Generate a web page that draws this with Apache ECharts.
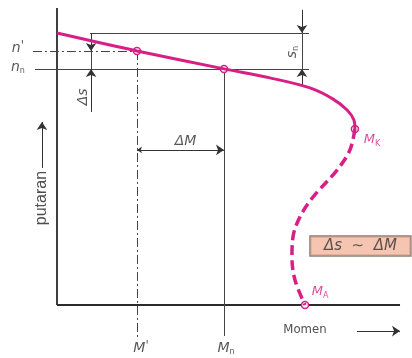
<!DOCTYPE html>
<html>
<head>
<meta charset="utf-8">
<script src="https://cdn.jsdelivr.net/npm/echarts@6/dist/echarts.min.js"></script>
<style>
  html, body { margin: 0; padding: 0; background: #fff; }
  #chart { width: 412px; height: 358px; }
</style>
</head>
<body>
<div id="chart"></div>
<script>
// Momen in % of M_n, putaran in % of n0
const curveSolid = [[0, 100], [47.9, 93.4], [100, 86.8], [127.5, 83.5], [151.5, 79.8],
  [165.3, 75.7], [173.7, 71.7], [177.8, 68.0], [178.4, 64.7]];
const curveDashed = [[178.4, 64.7], [175.4, 57.0], [167.7, 49.6], [153.3, 39.7],
  [145.5, 32.4], [141.3, 25.0], [140.7, 17.6], [142.5, 9.2], [148.5, 0]];
const pointsMarked = [[47.9, 93.4], [100, 86.8], [178.4, 64.7], [148.5, 0]];

const axisLines = [[[0, 0], [205.4, 0]], [[0, 0], [0, 109.2]]];
const thinLines = [
  [[19.8, 100], [150.9, 100]],       // n0
  [[-13.2, 86.8], [150.9, 86.8]],    // n_n
  [[100, 86.8], [100, -11.4]],       // M_n
  [[20.4, 93.4], [20.4, 86.8]],      // between Δs arrows
  [[146.7, 100], [146.7, 86.8]]      // between s_n arrows
];
const dashDotLines = [
  [[-14.4, 93.4], [47.9, 93.4]],     // n'
  [[47.9, 93.4], [47.9, -12.9]]      // M'
];
const arrowLines = [
  [[20.4, 100], [20.4, 93.4]],
  [[20.4, 71.0], [20.4, 86.8]],
  [[146.7, 108.5], [146.7, 100]],
  [[146.7, 80.9], [146.7, 86.8]],
  [[-9.0, 50.4], [-9.0, 67.3]],      // putaran
  [[179.6, -9.6], [205.4, -9.6]]     // Momen
];
const deltaM = [[47.9, 57.0], [100, 57.0]];

const labelTexts = ["{i|n}{t|'}", '{i|n}{s|n}', '{i|M}{t|\'}', '{i|M}{s|n}', 'Momen',
  'putaran', '{i|Δs}', '{i|s}{s|n}', '{i|ΔM}', '{m|M}{ms|K}', '{m|M}{ms|A}'];
const labelPos = [[-23.4, 94.5], [-23.4, 87.5], [50.3, -15.8], [101.2, -15.8], [148.5, -9.2],
  [-9.0, 39.3], [15.6, 76.5], [140.7, 93.0], [77.0, 60.0], [188.6, 60.7], [157.5, 4.8]];
const labelRotate = [0, 0, 0, 0, 0, 90, 90, 90, 0, 0, 0];
const boxText = 'Δs  ∼  ΔM';
const boxPos = [181.7, 21.7];

const MAG = '#d81f86';
const INK = '#2e2e2e';

const rich = {
  i: { fontFamily: 'DejaVu Sans', fontStyle: 'italic', fontSize: 14, color: INK, lineHeight: 16 },
  t: { fontFamily: 'DejaVu Sans', fontSize: 12, color: INK, lineHeight: 16, verticalAlign: 'top' },
  s: { fontFamily: 'DejaVu Sans', fontSize: 8, color: INK, lineHeight: 8, verticalAlign: 'bottom' },
  m: { fontFamily: 'DejaVu Sans', fontStyle: 'italic', fontSize: 13, color: MAG, lineHeight: 16 },
  ms: { fontFamily: 'DejaVu Sans', fontSize: 8, color: MAG, lineHeight: 8, verticalAlign: 'bottom' }
};

const toLines = (arr) => arr.map((c) => ({ coords: c }));

const chart = echarts.init(document.getElementById('chart'));
chart.setOption({
  animation: false,
  grid: { left: 0, right: 0, top: 0, bottom: 0 },
  xAxis: { type: 'value', min: -34.13, max: 212.57, show: false },
  yAxis: { type: 'value', min: -19.49, max: 112.13, show: false },
  series: [
    {
      type: 'lines', coordinateSystem: 'cartesian2d', silent: true,
      lineStyle: { color: '#2b2b2b', width: 1.8, opacity: 1 },
      data: toLines(axisLines)
    },
    {
      type: 'lines', coordinateSystem: 'cartesian2d', silent: true,
      lineStyle: { color: '#444', width: 1, opacity: 1 },
      data: toLines(thinLines)
    },
    {
      type: 'lines', coordinateSystem: 'cartesian2d', silent: true,
      lineStyle: { color: '#444', width: 1, opacity: 1, type: [9, 3, 2, 3] },
      data: toLines(dashDotLines)
    },
    {
      type: 'lines', coordinateSystem: 'cartesian2d', silent: true,
      symbol: ['none', 'arrow'], symbolSize: [5, 8],
      lineStyle: { color: '#333', width: 1, opacity: 1 },
      data: toLines(arrowLines)
    },
    {
      type: 'lines', coordinateSystem: 'cartesian2d', silent: true,
      symbol: ['arrow', 'arrow'], symbolSize: [5, 8],
      lineStyle: { color: '#333', width: 1, opacity: 1 },
      data: toLines([deltaM])
    },
    {
      type: 'line', data: curveSolid, smooth: 0.35, showSymbol: false, silent: true,
      lineStyle: { color: MAG, width: 3 }
    },
    {
      type: 'line', data: curveDashed, smooth: 0.35, showSymbol: false, silent: true,
      lineStyle: { color: MAG, width: 3.5, type: [10, 5] }
    },
    {
      type: 'scatter', data: pointsMarked, symbol: 'circle', symbolSize: 7, silent: true,
      itemStyle: { color: '#fff', borderColor: MAG, borderWidth: 1.5, opacity: 1 }
    },
    {
      type: 'scatter', symbolSize: 0, silent: true,
      data: labelPos.map((p, k) => ({
        value: p,
        label: {
          show: true, position: 'inside', rotate: labelRotate[k],
          formatter: labelTexts[k], rich: rich,
          fontFamily: k === 5 ? 'Liberation Sans' : 'DejaVu Sans Condensed',
          fontSize: k === 5 ? 16 : 13, color: '#222'
        }
      }))
    },
    {
      type: 'scatter', symbolSize: 0, silent: true,
      data: [{
        value: boxPos,
        label: {
          show: true, position: 'inside', formatter: boxText,
          fontFamily: 'DejaVu Sans', fontStyle: 'italic', fontSize: 15, color: '#333',
          backgroundColor: '#f3b79e', borderColor: '#6d5a52', borderWidth: 1.2,
          width: 90, align: 'center', padding: [2, 5, 2, 5]
        }
      }]
    }
  ]
});
</script>
</body>
</html>
